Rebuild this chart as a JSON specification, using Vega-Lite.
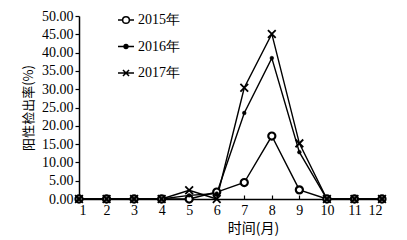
{
  "$schema": "https://vega.github.io/schema/vega-lite/v6.json",
  "width": 303,
  "height": 183,
  "autosize": {"type": "none"},
  "padding": {"left": 79, "top": 16, "right": 25, "bottom": 41},
  "background": "white",
  "config": {
    "view": {"stroke": null},
    "font": "Liberation Serif",
    "legend": {"orient": "none", "legendX": 38, "legendY": -5, "title": null,
      "labelFont": "Liberation Serif", "labelFontSize": 14, "labelColor": "black", "rowPadding": 10.5, "labelOffset": 3,
      "symbolSize": 256, "symbolStrokeWidth": 1.5, "symbolOpacity": 1},
    "axis": {
      "domainColor": "black", "domainWidth": 1.5, "tickColor": "black", "tickWidth": 1.2,
      "labelColor": "black", "labelFont": "Liberation Serif", "labelFontSize": 14,
      "titleColor": "black", "titleFont": "Noto Sans CJK SC", "titleFontSize": 13, "titleFontWeight": "normal",
      "grid": false
    }
  },
  "data": {"values": [
    {"year": "2015年", "month": 1, "rate": 0},
    {"year": "2015年", "month": 2, "rate": 0},
    {"year": "2015年", "month": 3, "rate": 0},
    {"year": "2015年", "month": 4, "rate": 0},
    {"year": "2015年", "month": 5, "rate": 0},
    {"year": "2015年", "month": 6, "rate": 1.9},
    {"year": "2015年", "month": 7, "rate": 4.5},
    {"year": "2015年", "month": 8, "rate": 17.2},
    {"year": "2015年", "month": 9, "rate": 2.5},
    {"year": "2015年", "month": 10, "rate": 0},
    {"year": "2015年", "month": 11, "rate": 0},
    {"year": "2015年", "month": 12, "rate": 0},
    {"year": "2016年", "month": 1, "rate": 0},
    {"year": "2016年", "month": 2, "rate": 0},
    {"year": "2016年", "month": 3, "rate": 0},
    {"year": "2016年", "month": 4, "rate": 0},
    {"year": "2016年", "month": 5, "rate": 1.0},
    {"year": "2016年", "month": 6, "rate": 1.5},
    {"year": "2016年", "month": 7, "rate": 23.5},
    {"year": "2016年", "month": 8, "rate": 38.5},
    {"year": "2016年", "month": 9, "rate": 12.8},
    {"year": "2016年", "month": 10, "rate": 0},
    {"year": "2016年", "month": 11, "rate": 0},
    {"year": "2016年", "month": 12, "rate": 0},
    {"year": "2017年", "month": 1, "rate": 0},
    {"year": "2017年", "month": 2, "rate": 0},
    {"year": "2017年", "month": 3, "rate": 0},
    {"year": "2017年", "month": 4, "rate": 0},
    {"year": "2017年", "month": 5, "rate": 2.4},
    {"year": "2017年", "month": 6, "rate": 0},
    {"year": "2017年", "month": 7, "rate": 30.4},
    {"year": "2017年", "month": 8, "rate": 45.1},
    {"year": "2017年", "month": 9, "rate": 15.2},
    {"year": "2017年", "month": 10, "rate": 0},
    {"year": "2017年", "month": 11, "rate": 0},
    {"year": "2017年", "month": 12, "rate": 0}
  ]},
  "encoding": {
    "x": {"field": "month", "type": "quantitative",
      "scale": {"domain": [1, 12], "nice": false, "zero": false},
      "axis": {"values": [1,2,3,4,5,6,7,8,9,10,11,12], "format": "d", "tickSize": -4, "labelPadding": 8,
               "title": "时间(月)", "titleX": 174, "titlePadding": 4, "titleFontSize": 14}},
    "y": {"field": "rate", "type": "quantitative",
      "scale": {"domain": [0, 50], "nice": false},
      "axis": {"values": [0,5,10,15,20,25,30,35,40,45,50], "format": ".2f", "tickSize": 4, "labelPadding": 2,
               "title": "阳性检出率(%)", "titlePadding": 6}}
  },
  "layer": [
    {"mark": {"type": "point", "opacity": 0, "strokeWidth": 1.5},
     "encoding": {
       "shape": {"field": "year", "type": "nominal",
         "scale": {"domain": ["2015年", "2016年", "2017年"], "range": [
           "M-1,0H-0.42M0.42,0H1M-0.42,0A0.42,0.42 0 1,1 0.42,0A0.42,0.42 0 1,1 -0.42,0Z",
           "M-1,0H1M-0.24,0A0.24,0.24 0 1,1 0.24,0A0.24,0.24 0 1,1 -0.24,0Z",
           "M-1,0H1M-0.38,-0.38L0.38,0.38M-0.38,0.38L0.38,-0.38"]}},
       "fill": {"field": "year", "type": "nominal",
         "scale": {"domain": ["2015年", "2016年", "2017年"], "range": ["white", "black", "black"]}},
       "stroke": {"field": "year", "type": "nominal",
         "scale": {"domain": ["2015年", "2016年", "2017年"], "range": ["black", "black", "black"]}}
     }},
    {"mark": {"type": "line", "color": "black", "strokeWidth": 1.4},
     "encoding": {"detail": {"field": "year"}}},
    {"mark": {"type": "point", "stroke": "black", "opacity": 1},
     "encoding": {
       "shape": {"condition": {"test": "datum.year === '2017年'", "value": "M-1,-1L1,1M-1,1L1,-1"}, "value": "circle"},
       "fill": {"condition": {"test": "datum.year === '2015年'", "value": "white"}, "value": "black"},
       "size": {"condition": [
         {"test": "datum.year === '2015年'", "value": 50},
         {"test": "datum.year === '2016年'", "value": 14}], "value": 60},
       "strokeWidth": {"condition": [
         {"test": "datum.year === '2015年'", "value": 2.2},
         {"test": "datum.year === '2016年'", "value": 0.5}], "value": 1.8}
     }}
  ]
}
